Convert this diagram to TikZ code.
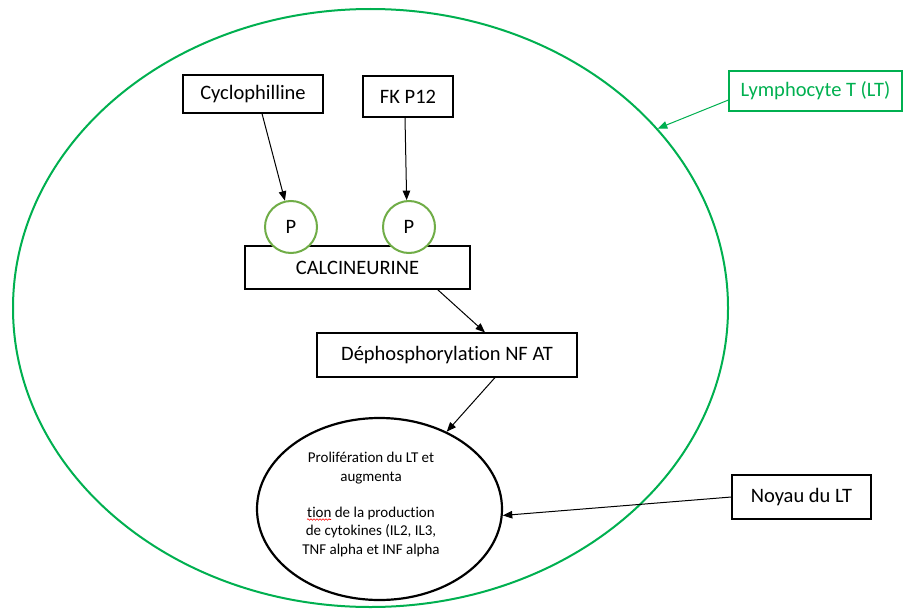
\documentclass[tikz,border=0pt]{standalone}
\usepackage{fontspec}
\setmainfont{Carlito}[Ligatures=NoCommon]
\usetikzlibrary{arrows.meta,shapes.geometric,decorations.pathmorphing}
\definecolor{ltgreen}{HTML}{00B050}
\definecolor{pgreen}{HTML}{70AD47}
\tikzset{
  boxnode/.style={draw, line width=1.1pt, rectangle, inner sep=0pt, font=\fontsize{20.5}{24}\selectfont},
  pnode/.style={draw=pgreen, line width=2pt, circle, fill=white, minimum size=52pt, inner sep=0pt, font=\fontsize{20.5}{24}\selectfont},
  smalltext/.style={anchor=base, inner sep=0pt, font=\fontsize{15}{18}\selectfont},
  arr/.style={line width=1pt, -{Triangle[length=9.5pt,width=7.5pt]}},
  garr/.style={draw=ltgreen, line width=1pt, -{Triangle[length=9.5pt,width=7.5pt]}, ltgreen}
}
\begin{document}
\begin{tikzpicture}[x=1pt,y=-1pt]
\useasboundingbox (0,0) rectangle (904,610);
\fill[white] (0,0) rectangle (904,610);
% cell
\node[draw=ltgreen, line width=2pt, ellipse, minimum width=715pt, minimum height=598pt, inner sep=0pt] (cell) at (370.5,308) {};
% nucleus
\node[draw, line width=2.2pt, ellipse, minimum width=245pt, minimum height=182pt, inner sep=0pt] (nuc) at (379.5,509) {};
\node[smalltext] (t1) at (371,462) {Prolifération du LT et};
\node[smalltext] (t2) at (371,481) {augmenta};
\node[smalltext] (t3) at (371,517) {tion de la production};
\node[smalltext] (t4) at (371,535) {de cytokines (IL2, IL3,};
\node[smalltext] (t5) at (371,554) {TNF alpha et INF alpha};
\draw[red, line width=0.6pt, decorate, decoration={snake, amplitude=0.8pt, segment length=3pt}] ([yshift=-2.5pt]t3.base west) -- ++(24,0);
% boxes
\node[boxnode, minimum width=140pt, minimum height=38pt] (cyclo) at (253,94) {Cyclophilline};
\node[boxnode, minimum width=90pt, minimum height=41pt] (fk) at (408,96.5) {FK P12};
\node[boxnode, minimum width=225pt, minimum height=43pt] (calc) at (357.5,267.5) {CALCINEURINE};
\node[pnode] (p1) at (291,227) {P};
\node[pnode] (p2) at (409,227) {P};
\node[boxnode, minimum width=260pt, minimum height=44pt] (deph) at (447,355) {Déphosphorylation NF AT};
\node[boxnode, minimum width=139pt, minimum height=44pt] (noy) at (801.5,497) {Noyau du LT};
\node[boxnode, draw=ltgreen, text=ltgreen, minimum width=173pt, minimum height=40pt] (lym) at (815.5,91) {Lymphocyte T (LT)};
% arrows
\draw[arr] ([xshift=9pt]cyclo.south) -- (p1.103);
\draw[arr] ([xshift=-3pt]fk.south) -- (p2.95);
\draw[arr] ([xshift=-33pt]calc.south east) -- ([xshift=38pt]deph.north);
\draw[arr] ([xshift=48pt]deph.south) -- (nuc.49);
\draw[arr] (noy.west) -- (nuc.-3);
\draw[garr] ([yshift=-9pt]lym.west) -- (cell.32);
\end{tikzpicture}
\end{document}
